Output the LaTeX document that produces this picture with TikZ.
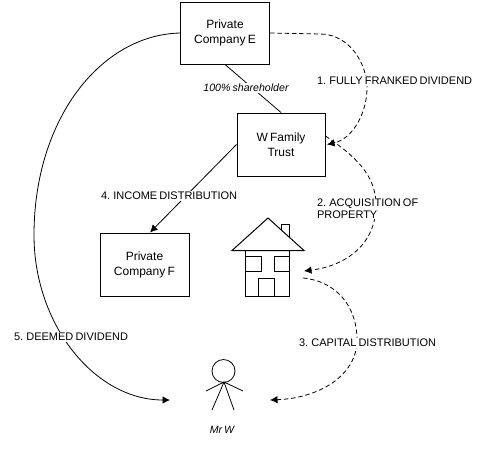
\documentclass[tikz,border=0pt]{standalone}
\usepackage{fontspec}
\setmainfont[WordSpace=0.7]{Liberation Sans}
\usetikzlibrary{arrows.meta}
\tikzset{
  x=1pt,y=-1pt,
  boxnode/.style={draw,line width=1pt,fill=white,align=center,inner sep=0pt,font=\fontsize{12}{15}\selectfont},
  flowlabel/.style={fill=white,inner sep=0.8pt,align=left,anchor=west,font=\fontsize{11}{12.5}\selectfont},
  smalllabel/.style={inner sep=0.8pt,fill=white,font=\fontsize{10.6}{12}\selectfont\itshape},
  solidflow/.style={line width=0.8pt,-{Latex[length=7.5pt,width=7.5pt]}},
  dashflow/.style={line width=0.8pt,dash pattern=on 4.5pt off 2.8pt,-{Latex[length=7.5pt,width=7.5pt]}},
  sketch/.style={line width=1pt,line join=miter},
  thinsketch/.style={line width=0.8pt}
}
\begin{document}
\begin{tikzpicture}
\useasboundingbox (0,0) rectangle (492,456);
\node[boxnode,minimum width=89pt,minimum height=62pt] (E) at (225,33) {Private\\Company E};
\node[boxnode,minimum width=88pt,minimum height=63pt] (W) at (281,144.5) {W Family\\Trust};
\node[boxnode,minimum width=89pt,minimum height=63pt] (F) at (144.5,264.5) {Private\\Company F};
% house
\draw[sketch,fill=white] (281,233) -- (281,224) -- (289,224) -- (289,240);
\draw[sketch] (245,250.5) rectangle (289,296);
\draw[sketch] (245,256) rectangle (261,271);
\draw[sketch] (274,256) rectangle (289,271);
\draw[sketch] (258,278) rectangle (274,296);
\draw[sketch,fill=white] (232,250.5) -- (268,218) -- (304,250.5) -- cycle;
\coordinate (houseIn) at (304,271);
\coordinate (houseOut) at (303,278);
% man
\node[draw,circle,line width=0.8pt,minimum size=23pt,inner sep=0pt] (head) at (223.5,371) {};
\coordinate (neck) at (224,382);
\coordinate (armL) at (206,391);
\coordinate (armR) at (243,391);
\coordinate (legL) at (212,410);
\coordinate (legR) at (234,410);
\draw[thinsketch] (armL) -- (neck) -- (armR) (legL) -- (neck) -- (legR);
\coordinate (manL) at (170,400);
\coordinate (manR) at (270,400);
% connectors
\draw[thinsketch] (E.south) -- (W.north);
\draw[solidflow] (W.west) -- ([xshift=5.5pt]F.north);
\draw[solidflow] (E.west) .. controls (100,35) and (34,120) .. (34,235) .. controls (34,325) and (95,400) .. (manL);
\draw[dashflow] (E.east) -- (320,34) .. controls (350,34) and (368,65) .. (367,90) .. controls (366,115) and (352,139) .. ([xshift=1.5pt]W.east);
\draw[dashflow] ([yshift=8.5pt]W.east) .. controls (355,156) and (376,175) .. (376,205) .. controls (376,245) and (345,266) .. (houseIn);
\draw[dashflow] (houseOut) .. controls (335,281) and (357,305) .. (357,340) .. controls (357,375) and (320,398) .. (manR);
% labels
\node[flowlabel] (l1) at (316,81) {1. FULLY FRANKED DIVIDEND};
\node[flowlabel] (l2) at (316,208.5) {2. ACQUISITION OF\\PROPERTY};
\node[flowlabel] (l3) at (298,343) {3. CAPITAL DISTRIBUTION};
\node[flowlabel] (l4) at (100,196) {4. INCOME DISTRIBUTION};
\node[flowlabel] (l5) at (13,337) {5. DEEMED DIVIDEND};
\node[smalllabel] (l6) at (246,88) {100\% shareholder};
\node[smalllabel] (l7) at (222,430) {Mr W};
\end{tikzpicture}
\end{document}
